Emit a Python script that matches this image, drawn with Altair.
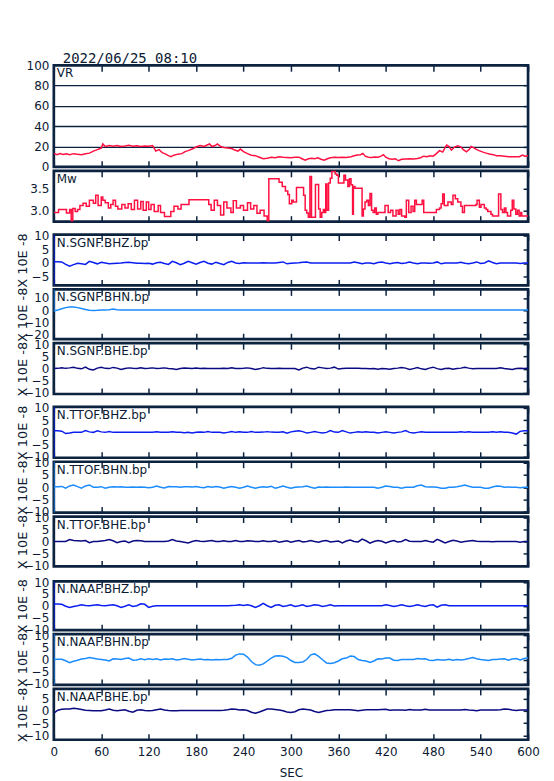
import altair as alt
import pandas as pd

# ---------------- data ----------------
X_TICKS = list(range(0, 601, 60))
SEC = list(range(0, 601, 5))
DATE_LABEL = ["2022/06/25 08:10"]

VR_POINTS = [(0,13.3),(4,12.0),(8,13.0),(12,12.2),(16,12.8),(20,12.0),(25,13.0),(30,12.4),(35,12.0),(40,12.8),
             (45,13.5),(50,15.5),(55,17.0),(60,18.5),(62,22.5),(65,20.0),(70,21.0),(75,20.2),(80,21.0),(85,20.0),
             (90,20.5),(95,21.2),(100,20.4),(105,20.8),(110,20.0),(115,20.6),(120,20.2),(125,21.0),(129,15.5),(133,17.0),
             (137,14.0),(141,12.8),(145,11.0),(148,10.0),(152,11.5),(157,12.5),(162,13.0),(166,15.0),(170,16.0),(175,17.5),
             (180,19.5),(185,21.0),(190,20.0),(194,21.5),(197,22.5),(200,20.0),(204,21.0),(207,22.5),(211,20.0),(215,19.0),
             (220,18.5),(225,18.0),(229,16.5),(233,15.5),(236,17.5),(240,15.0),(245,13.0),(250,11.5),(255,11.0),(260,9.5),
             (265,8.0),(270,8.5),(275,9.5),(280,9.0),(285,10.0),(290,9.5),(300,9.0),(305,9.5),(310,9.5),(314,8.0),
             (318,6.5),(322,8.0),(326,8.5),(330,8.0),(334,9.0),(338,7.5),(342,6.5),(346,8.0),(350,9.0),(355,9.5),
             (360,9.3),(365,9.5),(370,9.3),(376,10.0),(380,11.0),(384,11.6),(388,12.0),(391,13.3),(394,10.5),(398,9.5),
             (402,9.3),(406,9.8),(410,9.4),(414,10.5),(417,12.0),(420,9.5),(424,8.0),(428,7.5),(432,8.0),(436,6.0),
             (440,7.5),(445,7.8),(450,8.0),(455,7.8),(460,8.2),(464,9.0),(468,10.5),(472,10.0),(476,11.0),(480,10.5),
             (484,13.0),(488,16.0),(492,14.5),(495,19.0),(497,21.5),(500,20.0),(503,16.5),(507,19.5),(511,20.7),(515,19.5),
             (518,17.0),(522,14.8),(526,17.5),(528,20.0),(531,19.0),(534,17.5),(538,16.0),(543,14.5),(547,13.5),(551,12.6),
             (556,12.0),(560,11.0),(565,11.0),(570,10.5),(576,10.0),(582,10.0),(589,10.0),(593,11.6),(596,10.5),(600,11.0)]

MW_POINTS = [(0,2.95),(6,3.02),(14,3.02),(16,2.94),(20,3.02),(22,2.76),(24,3.04),(27,2.97),(30,3.02),(33,3.11),
             (37,3.16),(41,3.09),(45,3.23),(50,3.16),(53,3.34),(56,3.11),(60,3.30),(62,3.23),(65,3.17),(69,3.05),
             (72,3.13),(75,3.23),(78,3.09),(81,3.03),(86,3.13),(90,3.05),(94,3.15),(98,3.02),(102,3.23),(106,3.03),
             (110,3.20),(113,3.00),(117,3.19),(120,3.02),(123,3.13),(127,2.97),(132,3.11),(135,2.95),(140,2.86),(148,2.97),
             (152,3.09),(157,3.03),(161,3.13),(171,3.24),(196,3.13),(199,3.00),(203,3.23),(207,3.11),(211,2.89),(215,3.19),
             (219,3.05),(224,2.95),(227,3.22),(231,3.05),(236,3.11),(240,3.00),(245,3.17),(249,3.03),(253,3.11),(257,2.93),
             (261,3.00),(266,2.87),(270,2.76),(272,3.72),(282,3.72),(285,3.64),(289,3.54),(293,3.44),(296,3.36),(298,3.15),
             (301,3.23),(303,3.19),(307,3.52),(315,3.52),(316,3.34),(318,3.00),(320,2.94),(322,2.84),(324,3.77),(326,2.84),
             (331,3.59),(333,3.59),(335,3.03),(337,2.84),(339,2.95),(341,3.02),(342.6,2.95),(344,3.60),(345.5,3.00),(347.6,3.62),
             (349.7,3.73),(351.8,3.89),(354,3.90),(356,3.83),(358,3.80),(360,3.62),(367,3.80),(369,3.69),(372,3.54),(374,3.72),
             (376,3.58),(378,2.91),(379,3.54),(381,3.50),(390,2.87),(391.6,3.03),(393.7,3.19),(395.8,3.23),(398,3.11),(400,3.38),
             (402,3.00),(404,2.95),(406,3.05),(408,2.91),(410,2.95),(419,3.11),(423,2.95),(426,3.00),(429,2.87),(433,3.00),
             (435.7,2.91),(437.8,3.02),(440,2.87),(444,2.84),(446,3.23),(449,2.95),(452,3.09),(454.5,2.97),(456.6,3.23),(458.7,3.13),
             (466,3.23),(468,2.95),(484,3.02),(488,3.05),(490,3.15),(492,3.37),(494,3.11),(498.6,3.19),(502.8,3.13),(505,3.34),
             (508,3.26),(511,3.19),(515,3.09),(517,2.95),(519.5,3.11),(534,3.13),(535.5,3.23),(538.4,3.07),(540.5,3.13),(544.7,3.05),
             (547,3.02),(549,2.97),(553,2.91),(555,2.87),(562.7,3.37),(565.6,3.02),(567.7,2.95),(570,3.05),(572,2.95),(574,2.87),
             (578,3.00),(580,3.23),(582,3.03),(584.5,2.91),(586.6,3.00),(588.7,2.87),(590.8,2.95),(592,2.87),(600,2.87)]

# seismic traces, one value every 5 s (0..600), units of 10E-8
SGNF_BHZ = [0.5,0.5,0.4,-0.5,-1.2,-0.6,-0.1,-0.3,-0.5,0.6,0.2,-0.3,
            0.3,0.0,-0.3,-0.2,-0.1,0.0,0.2,0.3,0.1,-0.1,-0.1,-0.2,
            -0.1,-0.4,0.1,0.3,-0.2,-0.5,0.6,0.1,-0.6,-0.1,0.6,0.1,
            -0.4,0.2,0.6,-0.1,-0.4,0.3,-0.2,-0.6,0.2,0.6,0.0,-0.2,
            0.1,0.0,0.0,0.0,0.0,0.1,0.0,0.0,0.0,0.2,0.4,-0.3,
            -0.1,0.0,0.1,0.3,0.4,0.0,0.0,0.0,0.0,0.0,0.0,0.0,
            0.0,0.0,0.0,0.0,0.4,0.1,-0.3,0.0,0.0,-0.3,0.2,0.4,
            0.0,-0.3,0.0,0.2,-0.2,0.0,0.4,0.0,-0.3,0.0,0.0,-0.1,
            0.0,0.4,-0.3,0.0,0.0,0.0,0.0,0.3,-0.1,-0.3,0.0,0.4,
            -0.2,0.0,0.8,0.2,-0.3,0.0,0.0,0.0,0.0,0.0,-0.2,0.0,
            0.0]
SGNF_BHN = [-0.8,0.0,1.0,2.0,2.5,2.6,2.0,1.2,0.5,-0.2,-0.3,-0.2,
            0.0,0.1,0.2,0.8,0.3,0.0,0.0,0.0,0.0,0.0,0.0,0.0,
            0.0,0.0,0.0,0.0,0.0,0.0,0.0,0.0,0.0,0.0,0.0,0.0,
            0.0,0.0,0.0,0.0,0.0,0.0,0.0,0.0,0.0,0.0,0.0,0.0,
            0.0,0.0,0.0,0.0,0.0,0.0,0.0,0.0,0.0,0.0,0.0,0.0,
            0.0,0.0,0.0,0.0,0.0,0.0,0.0,0.0,0.0,0.0,0.0,0.0,
            0.0,0.0,0.0,0.0,0.0,0.0,0.0,0.0,0.0,0.0,0.0,0.0,
            0.0,0.0,0.0,0.0,0.0,0.0,0.0,0.0,0.0,0.0,0.0,0.0,
            0.0,0.0,0.0,0.0,0.0,0.0,0.0,0.0,0.0,0.0,0.0,0.0,
            0.0,0.0,0.0,0.0,0.0,0.0,0.0,0.0,0.0,0.0,0.0,0.0,
            0.0]
SGNF_BHE = [0.0,0.1,0.4,0.1,0.3,0.6,0.1,-0.1,0.6,-0.3,-0.6,0.2,
            0.6,0.1,0.0,0.5,0.2,-0.4,0.0,0.3,0.1,0.0,0.3,0.0,
            0.1,0.3,0.0,0.1,0.3,0.0,-0.1,-0.4,0.0,0.2,0.1,0.0,
            0.2,0.0,0.1,0.0,0.0,0.0,0.0,0.1,0.0,0.3,0.0,0.0,
            0.1,0.3,0.0,-0.4,-0.1,0.4,0.1,0.0,0.0,0.1,0.0,0.0,
            0.0,0.0,-0.6,0.2,0.6,0.0,-0.2,0.6,0.3,0.0,0.2,0.6,
            -0.2,0.0,0.1,0.1,0.1,0.1,0.0,0.0,-0.1,0.0,-0.3,0.0,
            -0.1,-0.3,0.0,0.2,0.5,0.2,-0.4,0.0,0.4,-0.1,-0.4,0.2,
            0.6,0.0,-0.4,0.0,0.1,-0.3,0.0,0.2,0.6,0.2,-0.1,0.0,
            0.0,0.0,0.0,0.0,0.0,0.3,0.0,-0.2,-0.4,0.0,0.1,0.0,
            0.1]
TTOF_BHZ = [0.7,0.7,0.5,-0.5,-0.3,0.0,0.0,0.0,0.7,0.2,0.0,0.6,
            0.2,0.0,0.3,0.0,0.0,0.0,0.0,0.0,0.0,0.0,0.0,0.0,
            0.0,0.0,0.2,0.0,0.0,0.0,0.2,0.0,0.0,-0.2,0.0,-0.3,
            0.0,0.1,0.0,0.3,0.0,0.0,0.0,-0.3,0.0,0.3,0.0,0.2,
            0.0,0.0,0.3,0.0,0.0,0.1,0.3,0.1,0.0,0.0,0.2,-0.3,
            0.2,0.5,0.7,0.3,-0.3,0.0,0.3,0.0,-0.3,0.0,0.7,0.1,
            0.0,0.7,0.2,-0.3,0.0,0.2,0.0,0.2,0.0,0.0,-0.3,0.0,
            0.2,0.0,-0.3,0.0,0.2,0.7,0.0,-0.3,0.0,0.2,0.0,0.0,
            0.0,0.0,0.0,0.0,0.0,0.0,0.0,0.2,0.0,0.2,0.0,0.0,
            0.0,0.0,0.0,0.2,0.0,0.2,0.0,0.0,-0.3,-0.7,0.4,0.7,
            0.7]
TTOF_BHN = [0.2,0.2,0.3,-0.4,0.5,0.9,0.2,-0.4,0.5,0.9,0.0,0.0,
            0.2,-0.4,0.0,0.2,0.1,0.2,0.0,0.0,0.1,0.0,0.1,0.0,
            -0.2,0.0,0.5,0.0,-0.3,0.3,0.2,0.2,0.0,0.2,0.2,0.1,
            0.3,0.0,-0.2,0.3,0.0,0.3,0.1,-0.4,0.0,0.3,0.0,-0.4,
            0.0,0.5,0.0,-0.4,0.0,0.2,0.0,0.4,-0.4,0.0,0.5,0.0,
            -0.4,0.0,0.1,0.2,0.5,0.0,-0.4,0.1,0.0,0.1,0.0,0.0,
            0.0,0.0,0.1,0.0,0.0,0.0,0.0,0.0,0.0,0.0,-0.4,0.0,
            0.5,0.3,0.0,0.0,-0.4,0.0,0.0,0.0,0.6,0.9,0.2,0.1,
            0.1,0.0,-0.4,-0.4,0.0,0.0,0.2,0.5,0.9,0.4,0.0,0.0,
            0.0,-0.4,-0.4,0.1,0.5,0.4,0.0,0.1,0.0,0.0,-0.2,0.0,
            0.0]
TTOF_BHE = [0.0,0.0,0.0,0.0,0.8,0.4,0.3,0.2,0.4,-0.5,0.0,0.0,
            0.2,0.4,0.8,0.3,-0.5,0.0,0.2,-0.5,0.2,0.4,0.3,0.0,
            0.0,0.0,0.0,0.0,0.0,0.2,0.8,0.2,0.0,-0.3,-0.6,0.0,
            0.4,0.1,0.0,0.2,0.4,0.0,0.0,0.3,0.0,0.0,0.4,0.0,
            0.0,0.3,0.2,0.0,0.0,0.3,0.0,0.0,0.3,-0.3,0.0,0.3,
            -0.3,0.1,0.4,-0.2,0.0,0.4,0.0,-0.3,0.2,0.4,-0.2,0.0,
            0.2,-0.6,0.2,0.6,0.0,-0.2,1.0,0.3,-0.7,0.0,0.4,0.1,
            -0.6,0.0,0.4,-0.2,0.0,0.8,0.1,0.0,0.0,0.0,0.4,0.0,
            -0.3,0.9,0.2,-0.6,0.0,0.5,0.2,-0.3,0.0,0.2,0.4,0.1,
            0.0,0.0,0.0,-0.1,0.0,0.0,0.0,0.0,0.0,0.0,-0.3,0.0,
            0.0]
NAAF_BHZ = [0.7,0.7,0.6,-0.2,-0.7,-0.3,0.0,0.4,0.1,0.0,0.2,0.4,
            0.1,0.0,0.2,0.4,0.0,-0.7,-0.2,0.4,-0.3,0.0,0.8,0.6,
            -0.7,-0.2,0.0,0.0,0.0,0.0,0.0,0.0,0.0,0.0,0.0,0.0,
            0.0,0.0,0.0,0.0,0.0,0.0,0.0,0.0,0.0,0.1,0.2,0.4,
            0.1,0.4,0.0,-0.7,0.0,1.0,0.0,-0.7,0.2,0.4,-0.3,0.0,
            0.4,-0.3,0.0,0.4,-0.3,0.0,0.4,0.2,-0.3,0.0,0.4,-0.1,
            0.0,0.0,0.0,0.0,0.0,0.0,0.0,0.0,0.0,0.0,0.0,0.0,
            0.4,0.1,-0.3,0.0,0.4,0.0,-0.3,0.0,0.4,0.0,-0.3,0.2,
            0.4,-0.6,0.2,0.4,0.0,0.0,0.0,0.0,0.0,0.0,0.0,0.0,
            0.0,0.0,0.0,0.0,0.0,0.0,0.0,0.0,0.0,0.0,0.0,0.0,
            0.0]
NAAF_BHN = [0.0,0.1,0.1,-0.5,-1.3,-0.7,-0.3,0.2,0.4,0.8,0.5,0.2,
            0.0,-0.2,-0.6,0.3,0.2,0.0,0.4,0.6,-0.3,-0.2,0.3,-0.1,
            0.3,0.0,0.3,-0.2,0.2,0.1,0.3,-0.2,0.0,0.4,0.1,-0.2,
            0.0,0.2,-0.1,0.0,-0.2,0.0,-0.1,0.0,0.0,0.5,1.8,2.3,
            2.2,1.0,-0.8,-2.1,-2.3,-1.8,-0.6,0.6,1.4,1.5,1.3,0.8,
            -0.4,-1.2,-1.2,-1.0,0.0,1.9,2.3,1.3,-0.1,-1.4,-1.6,-1.3,
            -0.6,0.3,0.6,1.4,1.2,0.0,-0.4,-0.6,-1.2,-0.6,0.3,0.2,
            0.6,0.6,-0.3,-0.4,0.0,0.0,0.0,0.0,0.4,0.2,0.3,-0.3,
            -0.4,0.0,-0.2,-0.2,0.1,-0.3,0.0,-0.2,0.0,0.4,0.8,0.3,
            0.0,-0.2,-0.4,0.0,0.0,0.2,0.3,-0.3,0.2,0.4,-0.2,0.4,
            0.6]
NAAF_BHE = [-1.0,0.2,0.6,0.7,0.7,1.0,0.8,0.5,0.2,0.1,0.0,0.0,
            0.0,0.3,0.7,0.2,0.0,0.2,0.4,-0.2,-0.6,0.2,0.4,0.1,
            0.0,0.1,0.4,0.7,0.3,0.1,0.0,0.0,0.1,0.1,0.1,0.1,
            0.1,0.1,0.1,0.1,0.1,0.1,0.1,0.2,0.4,0.7,0.6,0.3,
            0.4,0.1,-0.6,-1.0,-0.5,0.1,0.7,0.7,0.5,0.3,0.0,-0.5,
            -0.7,-0.4,0.4,0.7,0.5,0.3,-0.3,-0.7,-0.3,0.1,0.2,0.4,
            0.4,0.4,0.4,0.4,0.2,0.0,0.2,0.4,0.4,0.4,0.4,0.5,
            0.6,0.2,0.3,0.3,0.3,0.2,0.5,0.3,0.3,0.3,0.6,0.3,
            0.3,0.3,0.3,0.3,0.3,0.3,0.3,0.3,0.5,0.3,0.2,0.0,
            0.3,0.3,0.3,0.3,0.3,0.4,0.7,0.6,0.3,0.1,0.3,0.3,
            0.3]

# start-up transients at t = 0 (off scale)
ONSETS = {
    "N.SGNF.BHZ.bp": [-30, 30], "N.SGNF.BHN.bp": [30], "N.SGNF.BHE.bp": [],
    "N.TTOF.BHZ.bp": [-30, 30], "N.TTOF.BHN.bp": [-30, 30], "N.TTOF.BHE.bp": [],
    "N.NAAF.BHZ.bp": [-30, 30], "N.NAAF.BHN.bp": [-30, 30], "N.NAAF.BHE.bp": [],
}

# ---------------- style ----------------
FRAME = "#0c2340"
TEXT = "#0c1a33"
RED = "#ff1040"
BHZ_C = "#0a1ef0"
BHN_C = "#1a8cff"
BHE_C = "#0a0a82"
FONT = "DejaVu Sans"
W = 476
TICK = 6


def make_df(times, values, onset=()):
    rows = [(0, v) for v in onset] + list(zip(times, values))
    return pd.DataFrame({"i": range(len(rows)), "t": [r[0] for r in rows], "v": [r[1] for r in rows]})


def panel(df, color, domain, yticks, height, label, ytitle=None, fmt=None,
          grid=False, bottom=False, interp="linear", date=False):
    xs = alt.Scale(domain=[0, 600], nice=False, zero=False)
    ys = alt.Scale(domain=domain, nice=False, zero=False)
    xb = dict(orient="bottom", values=X_TICKS, offset=-TICK, tickSize=TICK, tickWidth=1.5,
              tickColor=FRAME, domain=False, grid=False, labels=bottom, labelFlush=False,
              labelPadding=7, labelFont=FONT, labelFontSize=12, labelColor=TEXT)
    if bottom:
        xb.update(title="SEC", titlePadding=10, titleFont=FONT, titleFontSize=12,
                  titleFontWeight="normal", titleColor=TEXT)
    else:
        xb["title"] = None
    yl = dict(orient="left", values=yticks, ticks=False, domain=False, grid=grid,
              gridColor=FRAME, gridWidth=1.3, gridOpacity=1, labelOverlap=False,
              labelFlush=False, labelPadding=5, labelFont=FONT, labelFontSize=12,
              labelColor=TEXT)
    if fmt:
        yl["format"] = fmt
    if ytitle:
        yl.update(title=ytitle, titleX=-31, titleY=height / 2, titleAngle=270,
                  titleAlign="center", titleBaseline="middle", titleFont=FONT,
                  titleFontSize=13, titleFontWeight="normal", titleColor=TEXT)
    else:
        yl["title"] = None

    line = alt.Chart(df).mark_line(color=color, strokeWidth=1.5, clip=True, interpolate=interp).encode(
        x=alt.X("t:Q", scale=xs, axis=alt.Axis(**xb)),
        y=alt.Y("v:Q", scale=ys, axis=alt.Axis(**yl)),
        order=alt.Order("i:Q"),
    )
    ticks = alt.Chart(df).mark_line(strokeOpacity=0, clip=True).encode(
        x=alt.X("t:Q", scale=xs, axis=alt.Axis(orient="top", values=X_TICKS, offset=-TICK,
                                               tickSize=TICK, tickWidth=1.5, tickColor=FRAME,
                                               domain=False, grid=False, labels=False, title=None)),
        y=alt.Y("v:Q", scale=ys, axis=alt.Axis(orient="right", values=yticks, offset=-5,
                                               tickSize=5, tickWidth=1.5, tickColor=FRAME,
                                               domain=False, grid=False, labels=False, title=None)),
        order=alt.Order("i:Q"),
    )
    name = alt.Chart(pd.DataFrame({"name": [label]})).mark_text(
        align="left", baseline="top", font=FONT, fontSize=12, color=TEXT, dx=3, dy=3
    ).encode(x=alt.value(0), y=alt.value(0), text="name:N")
    layers = [line, ticks, name]
    if date:
        layers.append(alt.Chart(pd.DataFrame({"d": DATE_LABEL})).mark_text(
            align="left", baseline="alphabetic", font="DejaVu Sans Mono", fontSize=14,
            color=TEXT, dx=9, dy=-2
        ).encode(x=alt.value(0), y=alt.value(0), text="d:N"))
    return alt.layer(*layers).resolve_axis(x="independent", y="independent").properties(
        width=W, height=height)


def spacer(h):
    return alt.Chart(pd.DataFrame({"s": [0]})).mark_point(opacity=0).encode(
        x=alt.value(0), y=alt.value(0)
    ).properties(width=W, height=h, view=alt.ViewBackground(stroke="transparent"))


vr_df = pd.DataFrame({"i": range(len(VR_POINTS)), "t": [p[0] for p in VR_POINTS], "v": [p[1] for p in VR_POINTS]})
mw_df = pd.DataFrame({"i": range(len(MW_POINTS)), "t": [p[0] for p in MW_POINTS], "v": [p[1] for p in MW_POINTS]})

Y10 = [-10, -5, 0, 5, 10]
SEIS = [
    ("N.SGNF.BHZ.bp", SGNF_BHZ, BHZ_C, [-8.2, 10.4], [-5, 0, 5, 10], 51),
    ("N.SGNF.BHN.bp", SGNF_BHN, BHN_C, [-24, 17], [-20, -10, 0, 10], 50),
    ("N.SGNF.BHE.bp", SGNF_BHE, BHE_C, [-10.6, 10.6], Y10, 51),
    ("N.TTOF.BHZ.bp", TTOF_BHZ, BHZ_C, [-10.4, 10.4], Y10, 51),
    ("N.TTOF.BHN.bp", TTOF_BHN, BHN_C, [-10.4, 10.4], Y10, 51),
    ("N.TTOF.BHE.bp", TTOF_BHE, BHE_C, [-10.4, 10.4], Y10, 50),
    ("N.NAAF.BHZ.bp", NAAF_BHZ, BHZ_C, [-10.3, 10.3], Y10, 49),
    ("N.NAAF.BHN.bp", NAAF_BHN, BHN_C, [-10.4, 10.4], Y10, 51),
    ("N.NAAF.BHE.bp", NAAF_BHE, BHE_C, [-11.8, 8.9], [-10, -5, 0, 5], 51),
]

panels = [
    panel(vr_df, RED, [0, 100], [0, 20, 40, 60, 80, 100], 102, "VR", grid=True, date=True),
    panel(mw_df, RED, [2.74, 3.90], [3.0, 3.5], 51, "Mw", fmt=".1f", interp="step-after"),
    spacer(5),
]
for k, (name, vals, col, dom, yt, h) in enumerate(SEIS):
    panels.append(panel(make_df(SEC, vals, ONSETS[name]), col, dom, yt, h, name,
                        ytitle="X 10E -8", bottom=(k == len(SEIS) - 1)))
    if k == 2:
        panels.append(spacer(5))
    if k == 5:
        panels.append(spacer(7))

chart = alt.vconcat(*panels, spacing=4, bounds="flush").properties(
    padding={"left": 7, "top": 41, "right": 5, "bottom": 2}
).configure_view(stroke=FRAME, strokeWidth=2.7)

chart.save("out.html", embed_options={"renderer": "svg", "actions": False})
